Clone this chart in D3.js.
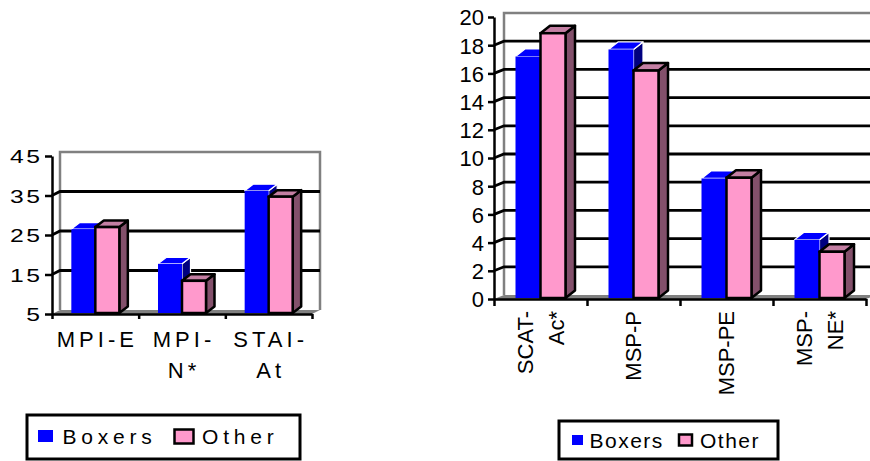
<!DOCTYPE html>
<html>
<head>
<meta charset="utf-8">
<script src="https://cdn.jsdelivr.net/npm/d3@7"></script>
<style>
  html, body { margin: 0; padding: 0; background: #fff; }
  svg { display: block; }
  text { font-family: "Liberation Sans", Arial, sans-serif; fill: #000; }
</style>
</head>
<body>
<svg id="chart" width="870" height="461"></svg>
<script>
// ---------- data ----------
const seriesNames = ["Boxers", "Other"];

const leftCategories = ["MPI-E", "MPI-N*", "STAI-At"];
const leftCategoryLines = [["MPI-E"], ["MPI-", "N*"], ["STAI-", "At"]];
const leftBoxers = [26.5, 17.7, 36.2];
const leftOther  = [27.0, 13.4, 34.7];
const leftTicks  = [5, 15, 25, 35, 45];

const rightCategories = ["SCAT-Ac*", "MSP-P", "MSP-PE", "MSP-NE*"];
const rightCategoryLines = [["SCAT-", "Ac*"], ["MSP-P"], ["MSP-PE"], ["MSP-", "NE*"]];
const rightBoxers = [17.2, 17.7, 8.55, 4.2];
const rightOther  = [18.85, 16.2, 8.6, 3.35];
const rightTicks  = [0, 2, 4, 6, 8, 10, 12, 14, 16, 18, 20];

// ---------- styles ----------
const COL = {
  blue: "#0000FF", blueSide: "#000080", blueTop: "#0000FF",
  pink: "#FF99CC", pinkSide: "#83506B", pinkTop: "#C47FA3",
  wall: "#808080"
};

const svg = d3.select("#chart");

function drawChart(cfg) {
  const n = cfg.categories.length;
  const g = svg.append("g");
  const y = d3.scaleLinear().domain([cfg.ticks[0], cfg.ticks[cfg.ticks.length - 1]]).range([cfg.yBase, cfg.yTop]);
  const x = d3.scaleBand().domain(cfg.categories).range([cfg.x0, cfg.x1]).padding(0);
  const xs = d3.scaleBand().domain(seriesNames).range([-cfg.barW, cfg.barW]).padding(0);
  const yMin = y.domain()[0], yMax = y.domain()[1];
  const {wdx, wdy, bdx, bdy} = cfg;
  const yb = y(yMin);

  // floor
  g.append("path")
    .attr("d", `M${cfg.x0},${yb} L${cfg.x0 + wdx},${yb + wdy} L${cfg.x1 + wdx},${yb + wdy} L${cfg.x1},${yb} Z`)
    .attr("fill", COL.wall);

  // back wall border
  g.append("path")
    .attr("d", `M${cfg.x0 + wdx},${yb + wdy} V${y(yMax) + wdy} H${cfg.x1 + wdx} V${yb + wdy}`)
    .attr("fill", "none").attr("stroke", COL.wall).attr("stroke-width", 2.5);

  // gridlines
  g.selectAll(".grid").data(cfg.ticks.filter(t => t > yMin && t < yMax)).join("path")
    .attr("d", t => `M${cfg.x0},${y(t)} L${cfg.x0 + wdx},${y(t) + wdy} H${cfg.x1 + wdx}`)
    .attr("fill", "none").attr("stroke", "#000").attr("stroke-width", 2.8);

  // bars
  const rows = [];
  cfg.categories.forEach((c, i) => {
    seriesNames.forEach((s, j) => {
      rows.push({c, s, v: cfg.values[j][i]});
    });
  });
  const bars = g.selectAll(".bar").data(rows).join("g");
  bars.each(function(d) {
    const sel = d3.select(this);
    const bx = x(d.c) + x.bandwidth() / 2 + xs(d.s);
    const w = xs.bandwidth();
    const top = y(d.v), bot = yb - 1;
    const isBlue = d.s === "Boxers";
    const stroke = isBlue ? "#fff" : "#000";
    const sw = isBlue ? 1.2 : 2.5;
    sel.append("path")
      .attr("d", `M${bx + w},${top} L${bx + w + bdx},${top + bdy} L${bx + w + bdx},${bot + bdy} L${bx + w},${bot} Z`)
      .attr("fill", isBlue ? COL.blueSide : COL.pinkSide)
      .attr("stroke", stroke).attr("stroke-width", sw).attr("stroke-linejoin", "round");
    sel.append("path")
      .attr("d", `M${bx},${top} L${bx + bdx},${top + bdy} L${bx + w + bdx},${top + bdy} L${bx + w},${top} Z`)
      .attr("fill", isBlue ? COL.blueTop : COL.pinkTop)
      .attr("stroke", stroke).attr("stroke-width", sw).attr("stroke-linejoin", "round");
    sel.append("rect")
      .attr("x", bx).attr("y", top).attr("width", w).attr("height", bot - top)
      .attr("fill", isBlue ? COL.blue : COL.pink)
      .attr("stroke", isBlue ? "none" : "#000").attr("stroke-width", sw);
  });

  // y axis
  const ya = g.append("g").attr("transform", `translate(${cfg.x0},0)`)
    .call(d3.axisLeft(y).tickValues(cfg.ticks).tickSize(cfg.yTickLen).tickSizeOuter(0).tickPadding(cfg.yTickPad));
  ya.select(".domain").attr("stroke", "#000").attr("stroke-width", 2.5);
  ya.selectAll(".tick line").attr("stroke", "#000").attr("stroke-width", 2.5);
  ya.selectAll(".tick text")
    .attr("font-size", cfg.yFont).attr("font-family", '"Liberation Sans", Arial, sans-serif')
    .style("letter-spacing", cfg.yLs + "px")
    .attr("x", -(cfg.yTickLen + cfg.yTickPad) / cfg.yStretch + cfg.yLs)
    .attr("transform", `scale(${cfg.yStretch},1)`)
    .attr("dy", "0.36em").attr("fill", "#000");

  // x axis (ticks at category boundaries)
  const xb = d3.scaleLinear().domain([0, n]).range([cfg.x0, cfg.x1]);
  const xa = g.append("g").attr("transform", `translate(0,${yb})`)
    .call(d3.axisBottom(xb).tickValues(d3.range(n + 1)).tickSize(cfg.xTickLen).tickSizeOuter(0).tickFormat(""));
  xa.select(".domain").attr("stroke", "#000").attr("stroke-width", 2.5);
  xa.selectAll(".tick line").attr("stroke", "#000").attr("stroke-width", 2.5);

  // category labels
  cfg.categories.forEach((c, i) => {
    const lines = cfg.lines[i];
    const cx = x(c) + x.bandwidth() / 2;
    lines.forEach((ln, k) => {
      if (cfg.rotate) {
        const bx = cx + cfg.capHalf + (k - (lines.length - 1) / 2) * cfg.lineGap;
        g.append("text").text(ln)
          .attr("transform", `translate(${bx},${cfg.labelY}) rotate(-90)`)
          .attr("text-anchor", "end")
          .attr("font-size", cfg.xFont);
      } else {
        g.append("text").text(ln)
          .attr("x", cx + cfg.xLs / 2).attr("y", cfg.labelY + k * cfg.lineGap)
          .attr("text-anchor", "middle")
          .attr("font-size", cfg.xFont)
          .style("letter-spacing", cfg.xLs + "px");
      }
    });
  });
}

drawChart({
  categories: leftCategories, lines: leftCategoryLines,
  values: [leftBoxers, leftOther], ticks: leftTicks,
  x0: 52, x1: 312, yBase: 314, yTop: 156,
  wdx: 8, wdy: -4, bdx: 8.5, bdy: -6.5, barW: 24,
  yTickLen: 7, yTickPad: 5, yFont: 19, yLs: 2, yStretch: 1.3,
  xTickLen: 5, xFont: 22, xLs: 4, labelY: 346.5, lineGap: 31, rotate: false
});

drawChart({
  categories: rightCategories, lines: rightCategoryLines,
  values: [rightBoxers, rightOther], ticks: rightTicks,
  x0: 494, x1: 866, yBase: 299, yTop: 17,
  wdx: 10, wdy: -4, bdx: 9.5, bdy: -7.5, barW: 25,
  yTickLen: 6, yTickPad: 4, yFont: 22, yLs: 0, yStretch: 1,
  xTickLen: 7, xFont: 22, xLs: 0, labelY: 311, lineGap: 31, capHalf: 7.8, rotate: true
});

// ---------- legends ----------
function drawLegend(cfg) {
  const g = svg.append("g");
  g.append("rect").attr("x", cfg.x).attr("y", cfg.y).attr("width", cfg.w).attr("height", cfg.h)
    .attr("fill", "#fff").attr("stroke", "#000").attr("stroke-width", 3);
  const items = g.selectAll(".item").data(seriesNames).join("g");
  items.each(function(s, i) {
    const it = d3.select(this);
    const k = cfg.keys[i];
    it.append("rect").attr("x", k.x).attr("y", k.y).attr("width", k.w).attr("height", k.h)
      .attr("fill", i === 0 ? COL.blue : COL.pink)
      .attr("stroke", i === 0 ? "none" : "#000").attr("stroke-width", 2.5);
    it.append("text").text(s).attr("x", cfg.textX[i]).attr("y", cfg.baseline)
      .attr("font-size", cfg.font).style("letter-spacing", cfg.ls + "px");
  });
}

drawLegend({
  x: 27, y: 415, w: 273, h: 44, font: 21, ls: 4.8, baseline: 444,
  keys: [{x: 38, y: 430, w: 15, h: 12}, {x: 174.5, y: 429.5, w: 19, h: 14}],
  textX: [62.5, 202]
});

drawLegend({
  x: 559, y: 421, w: 219, h: 38, font: 21, ls: 1.5, baseline: 447.5,
  keys: [{x: 572, y: 435, w: 11, h: 10}, {x: 679, y: 434.5, w: 13, h: 11}],
  textX: [589.5, 700]
});
</script>
</body>
</html>
